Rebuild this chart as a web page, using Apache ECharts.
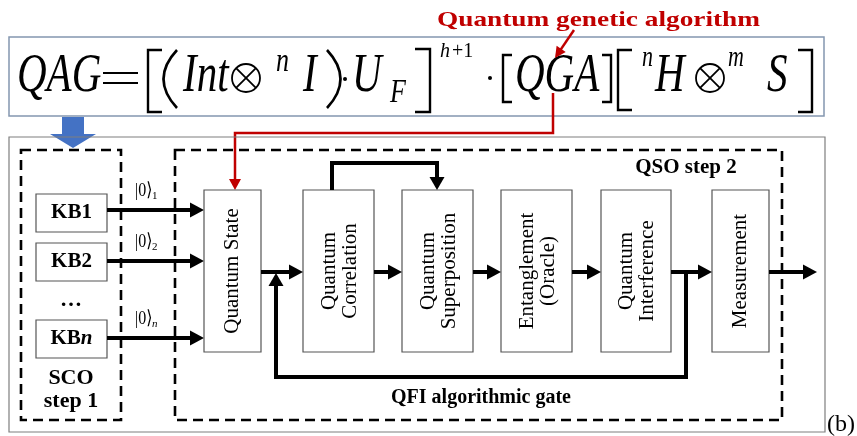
<!DOCTYPE html>
<html><head><meta charset="utf-8">
<script src="https://cdn.jsdelivr.net/npm/echarts@6/dist/echarts.min.js"></script>
<style>html,body{margin:0;padding:0;background:#fff}#c{width:857px;height:436px}</style>
</head><body><div id="c"></div>
<script>
// ---- content (text) ----
const titleText = 'Quantum genetic algorithm';
const kbLabels = ['KB', 'KB', 'KB'];
const kbIndex = ['1', '2', 'n'];
const qubitSubs = ['1', '2', 'n'];
const stageLabels = ['Quantum State', 'Quantum\nCorrelation', 'Quantum\nSuperposition', 'Entanglement\n(Oracle)', 'Quantum\nInterference', 'Measurement'];
const scoLabel = 'SCO\nstep 1';
const qsoLabel = 'QSO step 2';
const qfiLabel = 'QFI algorithmic gate';
const panelTag = '(b)';
// formula tokens: [text, italic, role]
const formulaTokens = [['QAG',1,'big'],['Int',1,'big'],['n',1,'sup'],['I',1,'big'],['U',1,'big'],['F',1,'sub'],['h',1,'exp'],['+1',0,'exp'],['QGA',1,'big'],['n',1,'sup2'],['H',1,'big'],['m',1,'sup2'],['S',1,'big']];

// ---- layout ----
const SERIF = '"Liberation Serif","Times New Roman","DejaVu Serif",serif';
const RED = '#c00000', BLUE = '#4472c4';
const formulaX = [17, 183, 276, 303, 352, 390, 440, 452, 515, 642, 655, 728, 767];
const roleStyle = {big:{f:41,bl:93,sy:1.33}, sup:{f:26,bl:72,sy:1.33}, sub:{f:26,bl:103,sy:1.33}, exp:{f:20,bl:58,sy:1.0}, sup2:{f:22,bl:67,sy:1.33}};
const kbY = [194, 243, 320];
const kbArrowY = [210, 261, 338];
const stageX = [204, 303, 402, 501, 601, 712];
const stageW = [57, 71, 71, 71, 70, 57];
const stageTop = 190, stageH = 162, flowY = 272;

const G = [];
function rect(x, y, w, h, stroke, lw, dash, fill) {
  G.push({type:'rect', shape:{x, y, width:w, height:h}, style:{fill: fill || 'none', stroke, lineWidth: lw, lineDash: dash || null}});
}
function line(pts, color, lw) {
  G.push({type:'polyline', shape:{points: pts}, style:{stroke: color, lineWidth: lw, fill:'none', lineJoin:'miter', lineCap:'butt'}});
}
function arrow(pts, color, lw, hl, hw) {
  const n = pts.length, t = pts[n-1], p = pts[n-2];
  const dx = t[0]-p[0], dy = t[1]-p[1], L = Math.hypot(dx, dy);
  const ux = dx/L, uy = dy/L;
  const bx = t[0]-ux*hl, by = t[1]-uy*hl;
  const shaft = pts.slice(0, n-1).concat([[t[0]-ux*hl*0.7, t[1]-uy*hl*0.7]]);
  line(shaft, color, lw);
  G.push({type:'polygon', shape:{points:[t, [bx - uy*hw, by + ux*hw], [bx + uy*hw, by - ux*hw]]}, style:{fill: color}});
}
function text(x, y, str, font, opts) {
  opts = opts || {};
  const el = {type:'text', x, y, style:{text: str, font, fill: opts.fill || '#000', align: opts.align || 'center', verticalAlign:'middle', lineHeight: opts.lh}};
  if (opts.rich) el.style.rich = opts.rich;
  if (opts.rot) el.rotation = opts.rot;
  if (opts.sx) el.scaleX = opts.sx;
  if (opts.sy) el.scaleY = opts.sy;
  G.push(el);
}

// ---- formula panel ----
rect(9, 37, 815, 79, '#8497b0', 1.5);
formulaTokens.forEach((tk, i) => {
  const r = roleStyle[tk[2]];
  const font = (tk[1] ? 'italic ' : '') + r.f + 'px ' + SERIF;
  text(formulaX[i], r.bl - 0.305 * r.f * r.sy, tk[0], font, {align:'left', sy: r.sy});
});
// equals sign
line([[103,73],[138,73]], '#000', 2.2);
line([[103,83],[138,83]], '#000', 2.2);
// brackets
const brackets = [[162,148,50,112],[415,430,49,112],[512,503,55,102],[602,611,55,102],[632,618,50,110],[798,812,50,112]];
brackets.forEach(b => line([[b[0],b[2]],[b[1],b[2]],[b[1],b[3]],[b[0],b[3]]], '#000', 2.4));
// parentheses
G.push({type:'bezierCurve', shape:{x1:177,y1:50,x2:177,y2:108,cpx1:150,cpy1:79}, style:{stroke:'#000',lineWidth:2.6,fill:'none'}});
G.push({type:'bezierCurve', shape:{x1:327,y1:50,x2:327,y2:108,cpx1:354,cpy1:79}, style:{stroke:'#000',lineWidth:2.6,fill:'none'}});
// otimes
[[246,78],[710,78]].forEach(c => {
  G.push({type:'circle', shape:{cx:c[0], cy:c[1], r:14}, style:{fill:'none', stroke:'#000', lineWidth:1.8}});
  const d = 9.9;
  line([[c[0]-d,c[1]-d],[c[0]+d,c[1]+d]], '#000', 1.8);
  line([[c[0]-d,c[1]+d],[c[0]+d,c[1]-d]], '#000', 1.8);
});
// dots
[[345,79],[490,78]].forEach(c => G.push({type:'circle', shape:{cx:c[0], cy:c[1], r:2}, style:{fill:'#000'}}));

// title + red arrows
text(437, 27 - 0.305*21, titleText, 'bold 21px ' + SERIF, {align:'left', fill: RED, sx: 1.3});
arrow([[574,30],[555,58]], RED, 2.5, 11, 5.5);
arrow([[553,93],[553,133],[235,133],[235,190]], RED, 2.5, 11, 6);

// blue arrow
G.push({type:'polygon', shape:{points:[[62,117],[84,117],[84,134],[96,134],[73,148],[50,134],[62,134]]}, style:{fill: BLUE}});

// ---- lower panel ----
rect(9, 137, 816, 295, '#7f7f7f', 1.2);
rect(21, 150, 100, 270, '#000', 2.6, [10, 6]);
rect(175, 150, 607, 270, '#000', 2.6, [10, 6]);

// KB boxes and qubit arrows
kbY.forEach((y, i) => {
  rect(36, y, 71, 38, '#555', 1.2, null, '#fff');
  const it = kbIndex[i] === 'n';
  text(71.5, y + 19, '{a|' + kbLabels[i] + '}{' + (it ? 'b' : 'a') + '|' + kbIndex[i] + '}', 'bold 21px ' + SERIF,
    {rich:{a:{font:'bold 21px ' + SERIF, fill:'#000'}, b:{font:'italic bold 21px ' + SERIF, fill:'#000'}}});
  arrow([[107, kbArrowY[i]],[204, kbArrowY[i]]], '#000', 4, 14, 7.5);
  text(135, kbArrowY[i] - 19, '|0\u27E9', '16px ' + SERIF, {align:'left', sy:1.2});
  text(152, kbArrowY[i] - 14, qubitSubs[i], (qubitSubs[i] === 'n' ? 'italic ' : '') + '11px ' + SERIF, {align:'left'});
});
text(71, 300, '\u2026', 'bold 22px ' + SERIF);

// stage boxes
stageX.forEach((x, i) => {
  rect(x, stageTop, stageW[i], stageH, '#555', 1.2, null, '#fff');
  text(x + stageW[i]/2 + (stageLabels[i].indexOf('\n') > 0 ? 1 : 0), stageTop + stageH/2, stageLabels[i], '21px ' + SERIF, {rot: Math.PI/2, lh: 21});
});
// flow arrows
for (let i = 0; i < stageX.length - 1; i++) {
  arrow([[stageX[i] + stageW[i], flowY],[stageX[i+1], flowY]], '#000', 4, 14, 7.5);
}
arrow([[769, flowY],[817, flowY]], '#000', 4, 14, 7.5);
// feedback loop
arrow([[686, flowY],[686, 377],[276, 377],[276, flowY + 1]], '#000', 4, 13, 7.5);
// bracket correlation -> superposition
arrow([[332, stageTop],[332, 163],[437, 163],[437, stageTop]], '#000', 4, 13, 7.5);

// group labels
text(71, 378, 'SCO', 'bold 22px ' + SERIF);
text(71, 401, 'step 1', 'bold 22px ' + SERIF);
text(686, 168, qsoLabel, 'bold 21px ' + SERIF);
text(481, 398, qfiLabel, 'bold 20px ' + SERIF);
text(827, 425, panelTag, '24px ' + SERIF, {align:'left'});

const chart = echarts.init(document.getElementById('c'));
chart.setOption({backgroundColor:'#fff', animation:false, graphic:{elements: G}});
</script></body></html>
